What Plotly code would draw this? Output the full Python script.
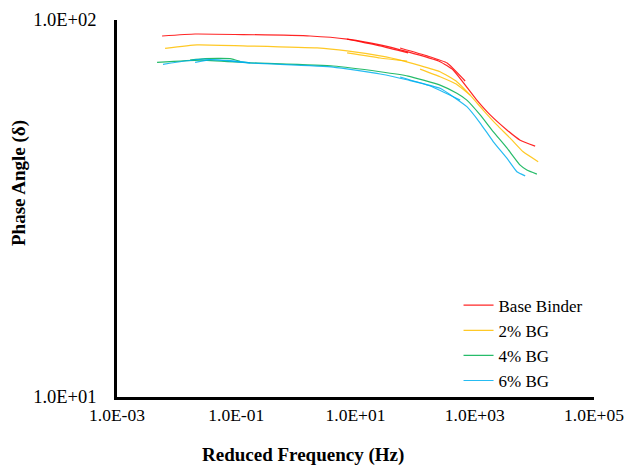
import plotly.graph_objects as go

# ---------------- data ----------------
series_names = ["Base Binder", "2% BG", "4% BG", "6% BG"]
series_colors = ["#FF0000", "#FFC000", "#00B050", "#00B0F0"]

# Base Binder segments (Hz, degrees)
base_x1 = [0.0057, 0.0204, 0.130, 1.73, 7.23, 25.9, 73.5, 262, 434, 1084, 1813, 3459, 5777, 10300]
base_y1 = [90.7, 91.8, 91.5, 90.7, 89.0, 85.9, 82.4, 77.5, 73.7, 61.3, 56.0, 51.1, 48.0, 46.3]
base_x2 = [7.23, 25.9, 76.3]
base_y2 = [89.0, 85.4, 81.8]
base_x3 = [56, 159, 344, 690]
base_y3 = [84.3, 80.3, 76.9, 68.9]

# 2% BG segments
bg2_x1 = [0.0064, 0.0220, 0.171, 2.27, 7.23, 25.9, 56, 262, 501, 837, 1383, 2349, 3926, 6486, 11580]
bg2_y1 = [84.1, 85.9, 85.3, 84.3, 82.8, 80.3, 78.3, 72.9, 68.6, 63.2, 57.7, 52.7, 48.6, 44.7, 42.1]
bg2_x2 = [7.23, 25.9, 73.5]
bg2_y2 = [81.8, 79.3, 77.8]
bg2_x3 = [121, 262, 488, 837]
bg2_y3 = [74.1, 70.7, 67.6, 63.2]

# 4% BG segments
bg4_x1 = [0.0047, 0.0247, 0.171, 4.21, 25.9, 76.3, 262, 501, 737, 1233, 2036, 3459, 5777, 7482, 11020]
bg4_y1 = [77.2, 78.3, 77.0, 75.5, 72.9, 71.0, 67.2, 63.9, 61.3, 56.0, 50.6, 45.8, 41.2, 40.0, 39.0]
bg4_x2 = [0.0168, 0.030, 0.0787, 0.116]
bg4_y2 = [78.3, 79.0, 79.0, 77.7]

# 6% BG segments
bg6_x1 = [0.0059, 0.0277, 0.171, 4.21, 25.9, 76.3, 262, 737, 1233, 2036, 3459, 5086, 7015]
bg6_y1 = [76.3, 78.8, 76.9, 75.0, 71.9, 69.3, 65.9, 58.9, 53.3, 47.6, 43.0, 39.6, 38.6]
bg6_x2 = [0.0204, 0.035, 0.080, 0.171]
bg6_y2 = [77.2, 78.4, 78.0, 77.0]
bg6_x3 = [56, 179, 569]
bg6_y3 = [70.6, 66.8, 61.3]

segments = [
    [(base_x1, base_y1), (base_x2, base_y2), (base_x3, base_y3)],
    [(bg2_x1, bg2_y1), (bg2_x2, bg2_y2), (bg2_x3, bg2_y3)],
    [(bg4_x1, bg4_y1), (bg4_x2, bg4_y2)],
    [(bg6_x1, bg6_y1), (bg6_x2, bg6_y2), (bg6_x3, bg6_y3)],
]

x_tickvals = [1e-3, 1e-1, 1e1, 1e3, 1e5]
x_ticktext = ["1.0E-03", "1.0E-01", "1.0E+01", "1.0E+03", "1.0E+05"]
y_tickvals = [10, 100]
y_ticktext = ["1.0E+01", "1.0E+02"]

FONT = "Liberation Serif"

fig = go.Figure()
for name, color, segs in zip(series_names, series_colors, segments):
    for i, (xs, ys) in enumerate(segs):
        fig.add_trace(go.Scatter(
            x=xs, y=ys, mode="lines", name=name, legendgroup=name,
            showlegend=(i == 0),
            line=dict(color=color, width=1.2, shape="spline", smoothing=0.4),
            opacity=0.85,
        ))

W, H = 624, 468
L, R, T, B = 117, 30, 20, 71
plot_w = W - L - R
plot_h = H - T - B


def px_to_paper(px, py):
    return (px - L) / plot_w, (H - B - py) / plot_h


xt_x, xt_y = px_to_paper(303, 455)
yt_x, yt_y = px_to_paper(19, 183)

fig.update_layout(
    width=W, height=H,
    margin=dict(l=L, r=R, t=T, b=B, autoexpand=False),
    paper_bgcolor="white", plot_bgcolor="white",
    font=dict(family=FONT, size=18, color="#000000"),
    showlegend=True,
    legend=dict(
        x=0.716, y=0.29, xanchor="left", yanchor="top",
        bgcolor="rgba(0,0,0,0)", font=dict(family=FONT, size=17, color="#000000"),
        tracegroupgap=0, itemwidth=30,
    ),
    xaxis=dict(
        type="log", range=[-3, 5], tickvals=x_tickvals, ticktext=x_ticktext,
        showgrid=False, zeroline=False, showline=True, linecolor="black", linewidth=2.5,
        ticks="", tickfont=dict(family=FONT, size=17.5), ticklabelstandoff=0,
        ticklabeloverflow="allow", automargin=False,
    ),
    yaxis=dict(
        type="log", range=[1, 2], tickvals=y_tickvals, ticktext=y_ticktext,
        showgrid=False, zeroline=False, showline=True, linecolor="black", linewidth=2.5,
        ticks="", tickfont=dict(family=FONT, size=18.5), ticklabelstandoff=14,
        ticklabeloverflow="allow", automargin=False,
    ),
    annotations=[
        dict(text="<b>Reduced Frequency (Hz)</b>", x=xt_x, y=xt_y, xref="paper", yref="paper",
             xanchor="center", yanchor="middle",
             showarrow=False, font=dict(family=FONT, size=19)),
        dict(text="<b>Phase Angle (δ)</b>", x=yt_x, y=yt_y, xref="paper", yref="paper",
             xanchor="center", yanchor="middle",
             showarrow=False, textangle=-90, font=dict(family=FONT, size=19)),
    ],
)

fig.write_html("out.html", config={"displayModeBar": False},
               post_script="document.body.style.margin='0';")
